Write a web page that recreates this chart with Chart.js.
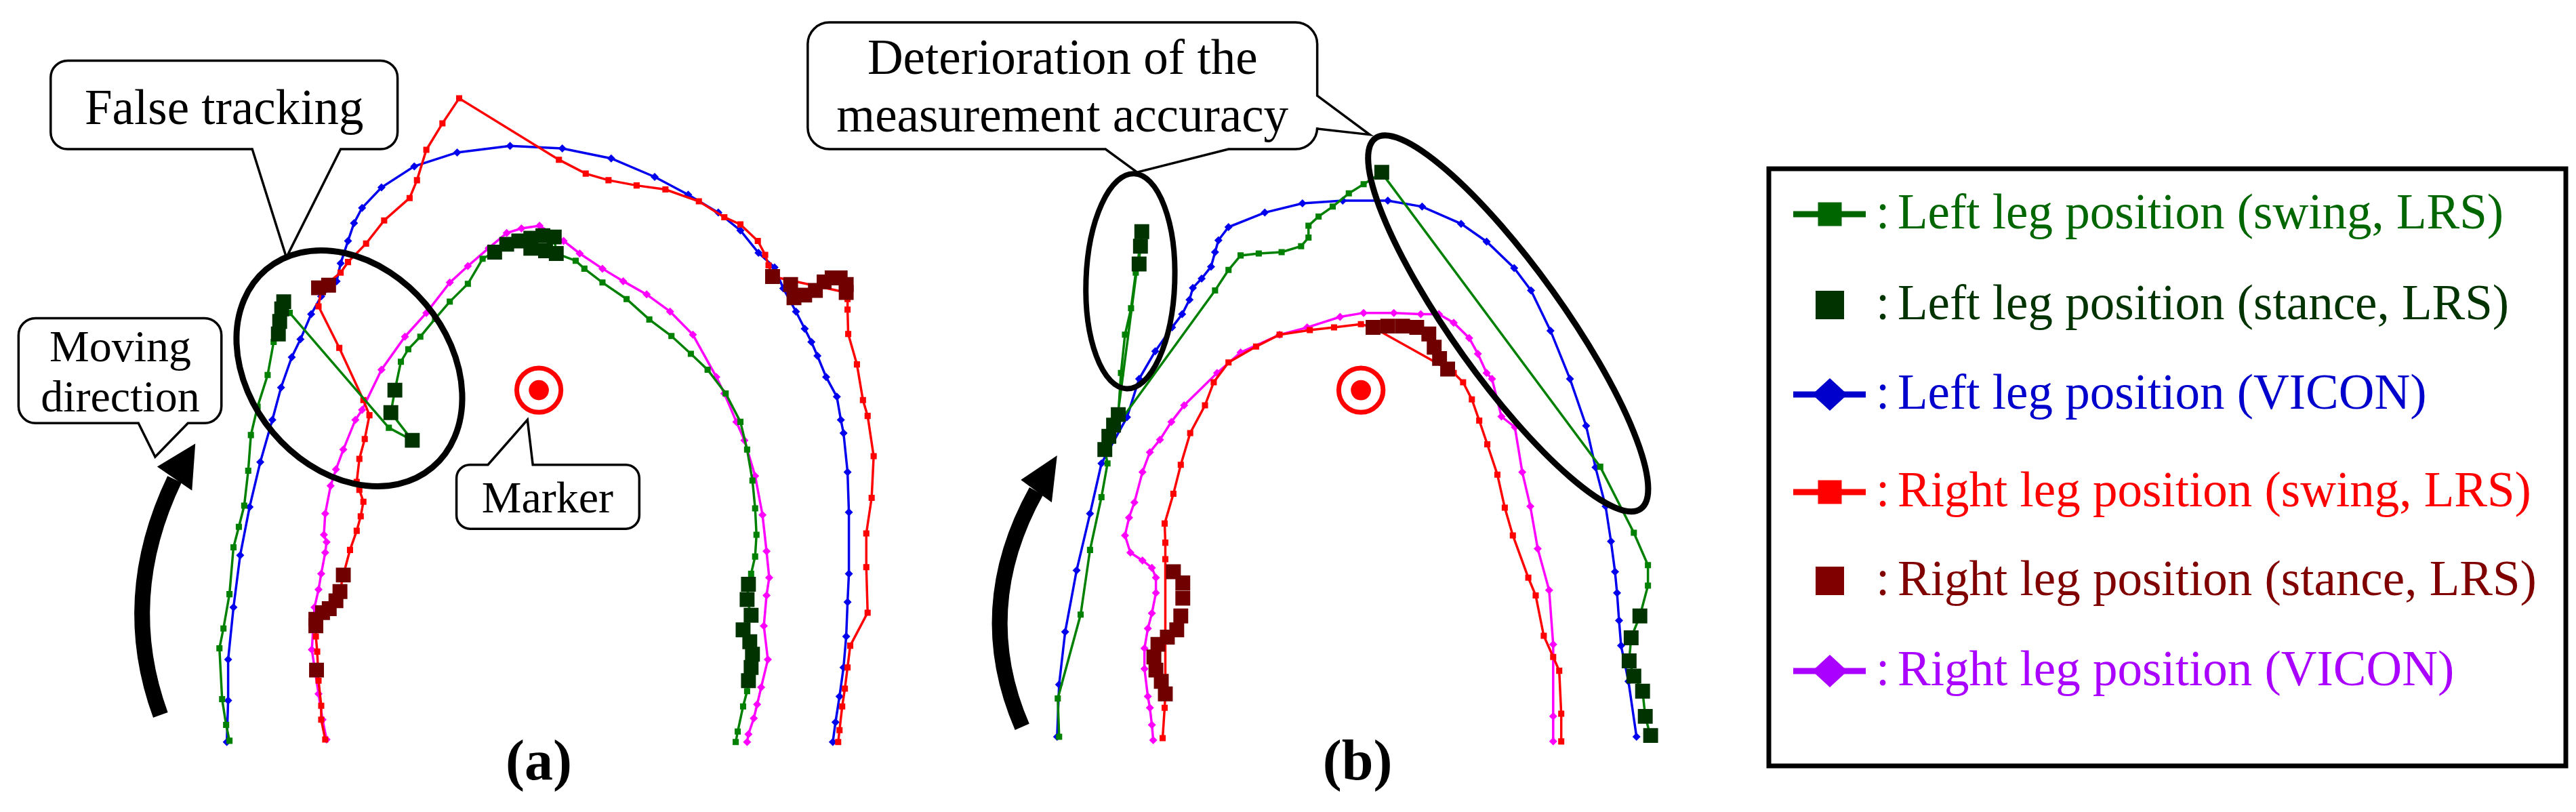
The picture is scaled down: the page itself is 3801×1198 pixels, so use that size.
<!DOCTYPE html>
<html>
<head>
<meta charset="utf-8">
<title>LRS vs VICON leg positions</title>
<script src="https://cdn.jsdelivr.net/npm/chart.js@4.4.1/dist/chart.umd.min.js"></script>
<style>
  html, body { margin: 0; padding: 0; background: #fff; }
  #wrap { position: relative; width: 3801px; height: 1198px; overflow: hidden; background: #fff; }
  #wrap canvas { position: absolute; left: 0; top: 0; }
</style>
</head>
<body>
<div id="wrap">
  <canvas id="panelA" width="2600" height="1198"></canvas>
  <canvas id="panelB" width="3801" height="1198"></canvas>
</div>
<script>
// Leg positions, relative to the marker (x right, y up)
const seriesLabels = [
  'Left leg position (swing, LRS)',
  'Left leg position (stance, LRS)',
  'Left leg position (VICON)',
  'Right leg position (swing, LRS)',
  'Right leg position (stance, LRS)',
  'Right leg position (VICON)'
];
const plotColors = ['#008000', '#003300', '#0000ee', '#ff0000', '#700000', '#ff00ff'];
const legendColors = ['#006600', '#003300', '#0000cc', '#ff0000', '#800000', '#aa00ff'];

// ---- panel (a) ----
const leftSwingA = [[-462,-531],[-467,-507],[-473,-468],[-477,-391],[-471,-361],[-462,-309],[-456,-238],[-448,-207],
  [-440,-175],[-434,-122],[-430,-68],[-420,-25],[-405,23],[-396,73],[-389,88],[-387,108],[-383,128],[-372,117],
  [-224,-57],[-189,-76],[-221,-34],[-215,0],[-206,43],[-195,62],[-177,81],[-155,108],[-133,134],[-106,161],[-84,199],
  [-66,209],[-48,221],[-30,226],[-12,230],[6,234],[23,232],[26,207],[55,196],[68,184],[95,163],[131,138],[165,107],
  [198,82],[227,55],[252,31],[279,-5],[301,-48],[311,-90],[319,-137],[323,-179],[325,-219],[323,-252],[317,-278],
  [313,-294],[311,-317],[317,-341],[305,-363],[315,-381],[319,-400],[317,-420],[313,-440],[311,-456],[305,-479],
  [297,-517],[294,-533]];
const leftStanceA = [[-389,85],[-387,104],[-384,123],[-381,134],[-221,-34],[-215,0],[-189,-76],
  [-66,209],[-48,221],[-30,226],[-12,230],[6,234],[23,232],[26,207],[10,211],[-12,215],
  [313,-294],[311,-317],[317,-341],[305,-363],[315,-381],[319,-400],[317,-420],[313,-440]];
const leftViconA = [[-466,-533],[-464,-470],[-464,-408],[-456,-329],[-446,-250],[-432,-177],[-416,-109],[-398,-45],
  [-385,4],[-369,50],[-356,77],[-340,115],[-325,142],[-302,165],[-296,192],[-285,226],[-276,253],[-264,276],
  [-235,307],[-186,339],[-122,360],[-43,370],[35,366],[108,351],[173,323],[223,296],[268,269],[301,242],[328,208],
  [352,186],[365,154],[384,119],[397,93],[407,73],[416,52],[429,20],[445,-10],[451,-45],[455,-65],[461,-124],
  [463,-185],[463,-278],[461,-321],[459,-373],[455,-420],[449,-464],[443,-503],[439,-533]];
const rightSwingA = [[-319,-529],[-325,-499],[-325,-478],[-329,-440],[-331,-396],[-333,-373],[-333,-350],[-311,-333],
  [-297,-305],[-292,-280],[-282,-242],[-272,-213],[-266,-191],[-262,-169],[-268,-151],[-272,-139],[-268,-104],
  [-260,-74],[-253,-38],[-262,-15],[-298,64],[-329,127],[-325,154],[-296,178],[-285,194],[-258,222],[-231,257],
  [-193,291],[-182,318],[-168,364],[-144,404],[-119,442],[30,349],[70,328],[104,318],[146,310],[189,304],[239,286],
  [277,262],[301,251],[327,226],[338,205],[343,189],[349,172],[459,148],[461,138],[461,122],[462,85],[475,39],
  [484,-15],[491,-39],[500,-100],[497,-163],[489,-217],[489,-268],[491,-337],[465,-387],[461,-420],[457,-452],
  [453,-479],[449,-515],[447,-533]];
const rightStanceA = [[-329,155],[-314,159],[-292,-280],[-297,-305],[-303,-319],[-313,-331],[-323,-337],[-333,-347],
  [-333,-357],[-332,-424],[349,172],[376,160],[381,140],[397,144],[413,151],[426,164],[438,170],[450,170],[459,160],[459,148]];
const rightViconA = [[-317,-529],[-323,-499],[-329,-460],[-335,-420],[-339,-393],[-337,-361],[-335,-329],[-329,-302],
  [-325,-278],[-319,-246],[-317,-230],[-321,-219],[-319,-187],[-311,-145],[-303,-120],[-292,-90],[-274,-45],[-264,-30],
  [-235,31],[-200,81],[-168,117],[-133,163],[-106,188],[-75,215],[-48,238],[-26,245],[1,249],[37,226],[61,207],[95,184],
  [126,165],[161,145],[196,119],[230,84],[265,20],[277,-5],[295,-48],[307,-76],[323,-130],[334,-189],[340,-244],
  [344,-284],[340,-311],[336,-357],[342,-408],[332,-450],[326,-476],[321,-497],[313,-521],[311,-533]];

// ---- panel (b) ----
const leftSwingB = [[-449,-525],[-451,-467],[-417,-340],[-403,-242],[-386,-162],[-377,-111],[-381,-90],[-375,-70],
  [-368,-53],[-361,-37],[-357,26],[-351,84],[-342,124],[-335,178],[-330,196],[-326,240],[-364,-55],[-217,151],
  [-197,182],[-179,204],[-152,207],[-118,209],[-89,218],[-78,231],[-78,249],[-63,263],[-42,278],[-18,298],[4,312],
  [31,329],[356,-116],[406,-216],[427,-265],[427,-296],[415,-342],[402,-375],[399,-410],[406,-433],[419,-456],
  [423,-494],[431,-525]];
const leftStanceB = [[-381,-90],[-375,-70],[-368,-53],[-361,-37],[-330,191],[-328,218],[-326,240],[31,330],
  [415,-342],[402,-375],[399,-410],[406,-433],[419,-456],[423,-494],[431,-523]];
const leftViconB = [[-452,-525],[-449,-446],[-440,-366],[-423,-273],[-403,-187],[-386,-111],[-348,-41],[-330,17],
  [-306,59],[-281,95],[-266,115],[-255,137],[-250,155],[-237,169],[-223,187],[-217,209],[-212,227],[-197,247],
  [-143,269],[-87,283],[-27,287],[40,287],[91,278],[149,252],[187,225],[228,185],[253,151],[282,90],[311,17],
  [335,-54],[349,-117],[364,-176],[372,-229],[378,-275],[381,-307],[384,-349],[387,-387],[398,-441],[410,-525]];
const rightSwingB = [[-295,-527],[-292,-481],[-291,-460],[-291,-256],[-291,-231],[-292,-202],[-279,-157],[-268,-113],
  [-254,-65],[-232,-23],[-219,12],[-197,42],[-156,66],[-121,84],[-76,91],[-40,95],[0,100],[18,95],[129,32],
  [138,26],[152,12],[165,-14],[176,-46],[188,-82],[203,-128],[214,-178],[226,-220],[249,-284],[260,-311],
  [272,-372],[286,-404],[295,-425],[298,-490],[298,-532]];
const rightStanceB = [[-279,-275],[-265,-292],[-265,-315],[-268,-342],[-274,-363],[-288,-374],[-302,-385],
  [-308,-404],[-305,-424],[-297,-441],[-291,-460],
  [18,95],[40,97],[62,97],[83,95],[101,85],[109,65],[117,48],[129,32]];
const rightViconB = [[-309,-530],[-311,-507],[-314,-481],[-317,-464],[-322,-422],[-322,-391],[-317,-361],[-311,-338],
  [-305,-307],[-305,-284],[-311,-269],[-325,-258],[-343,-246],[-351,-220],[-345,-193],[-337,-170],[-325,-124],
  [-314,-94],[-299,-75],[-282,-48],[-263,-23],[-214,26],[-179,57],[-121,84],[-80,95],[-31,111],[4,117],[49,117],
  [89,115],[116,115],[138,102],[161,79],[174,55],[187,26],[195,17],[209,-40],[229,-56],[240,-124],[252,-176],
  [263,-240],[280,-303],[286,-385],[286,-494],[286,-532]];

const serif = '"Liberation Serif", "Times New Roman", Times, serif';

function pts(list) {
  return list.map(p => ({ x: p[0], y: p[1] }));
}

function buildDatasets(series) {
  return series.map((d, i) => {
    const stance = i === 1 || i === 4;
    const vicon = i === 2 || i === 5;
    return {
      label: seriesLabels[i],
      data: pts(d),
      showLine: !stance,
      borderColor: plotColors[i],
      backgroundColor: plotColors[i],
      pointBackgroundColor: plotColors[i],
      pointBorderColor: plotColors[i],
      borderWidth: 3.5,
      pointStyle: vicon ? 'rectRot' : 'rect',
      pointRadius: stance ? 15.5 : (vicon ? 6 : 6.4),
      pointBorderWidth: 0,
      tension: 0,
      order: stance ? 0 : (vicon ? 2 : 1)
    };
  });
}

// speech bubble: rounded box with pointer tails
function bubble(ctx, px, py, b) {
  const L = px(b.box[0]), T = py(b.box[1]), R = px(b.box[2]), B = py(b.box[3]);
  const r = b.r;
  const tails = b.tails || [];
  ctx.beginPath();
  ctx.moveTo(L + r, T);
  tails.filter(t => t.side === 'top').forEach(t => {
    ctx.lineTo(px(t.from), T); ctx.lineTo(px(t.tip[0]), py(t.tip[1])); ctx.lineTo(px(t.to), T);
  });
  ctx.lineTo(R - r, T);
  ctx.arcTo(R, T, R, T + r, r);
  tails.filter(t => t.side === 'right').forEach(t => {
    ctx.lineTo(R, py(t.from)); ctx.lineTo(px(t.tip[0]), py(t.tip[1])); ctx.lineTo(R, py(t.to));
  });
  ctx.lineTo(R, B - r);
  ctx.arcTo(R, B, R - r, B, r);
  tails.filter(t => t.side === 'bottom').forEach(t => {
    ctx.lineTo(px(t.to), B); ctx.lineTo(px(t.tip[0]), py(t.tip[1])); ctx.lineTo(px(t.from), B);
  });
  ctx.lineTo(L + r, B);
  ctx.arcTo(L, B, L, B - r, r);
  ctx.lineTo(L, T + r);
  ctx.arcTo(L, T, L + r, T, r);
  ctx.closePath();
  ctx.fillStyle = '#fff';
  ctx.fill();
  ctx.lineWidth = 3.5;
  ctx.strokeStyle = '#000';
  ctx.lineJoin = 'miter';
  ctx.stroke();
  ctx.fillStyle = '#000';
  ctx.font = b.size + 'px ' + serif;
  ctx.textAlign = 'center';
  ctx.textBaseline = 'alphabetic';
  b.text.forEach((line, k) => ctx.fillText(line, px(b.cx), py(b.lines[k])));
}

const notesPlugin = {
  id: 'notes',
  afterDatasetsDraw(chart, args, o) {
    const ctx = chart.ctx;
    const xs = chart.scales.x, ys = chart.scales.y;
    const px = v => xs.getPixelForValue(v);
    const py = v => ys.getPixelForValue(v);
    const k = Math.abs(px(1) - px(0));
    ctx.save();

    // marker (target)
    ctx.strokeStyle = '#ff0000';
    ctx.fillStyle = '#ff0000';
    ctx.lineWidth = 7;
    ctx.beginPath();
    ctx.arc(px(o.target[0]), py(o.target[1]), 33 * k, 0, Math.PI * 2);
    ctx.stroke();
    ctx.beginPath();
    ctx.arc(px(o.target[0]), py(o.target[1]), 15 * k, 0, Math.PI * 2);
    ctx.fill();

    // ellipses
    ctx.strokeStyle = '#000';
    o.ellipses.forEach(e => {
      ctx.lineWidth = e.lw;
      ctx.beginPath();
      ctx.ellipse(px(e.c[0]), py(e.c[1]), e.rx * k, e.ry * k, e.rot * Math.PI / 180, 0, Math.PI * 2);
      ctx.stroke();
    });

    // moving-direction arrow
    const a = o.arrow;
    ctx.lineWidth = 23;
    ctx.lineCap = 'butt';
    ctx.beginPath();
    ctx.moveTo(px(a.tail[0]), py(a.tail[1]));
    ctx.quadraticCurveTo(px(a.ctrl[0]), py(a.ctrl[1]), px(a.end[0]), py(a.end[1]));
    ctx.stroke();
    ctx.fillStyle = '#000';
    ctx.beginPath();
    ctx.moveTo(px(a.tip[0]), py(a.tip[1]));
    ctx.lineTo(px(a.base1[0]), py(a.base1[1]));
    ctx.lineTo(px(a.base2[0]), py(a.base2[1]));
    ctx.closePath();
    ctx.fill();

    // callouts
    o.bubbles.forEach(b => bubble(ctx, px, py, b));

    // panel label
    ctx.fillStyle = '#000';
    ctx.font = 'bold 84px ' + serif;
    ctx.textAlign = 'center';
    ctx.textBaseline = 'alphabetic';
    ctx.fillText(o.label.text, px(o.label.at[0]), py(o.label.at[1]));

    // legend box (only on one panel)
    if (o.legend) {
      const g = o.legend;
      ctx.lineWidth = 7;
      ctx.strokeStyle = '#000';
      ctx.strokeRect(g.box[0], g.box[1], g.box[2] - g.box[0], g.box[3] - g.box[1]);
      chart.data.datasets.forEach((ds, i) => {
        const col = legendColors[i];
        const base = g.rows[i];
        const cy = base - 21;
        ctx.fillStyle = col;
        ctx.strokeStyle = col;
        if (ds.showLine) {
          ctx.lineWidth = 9;
          ctx.beginPath();
          ctx.moveTo(g.lineX[0], cy);
          ctx.lineTo(g.lineX[1], cy);
          ctx.stroke();
        }
        const mx = g.symX;
        if (ds.pointStyle === 'rectRot') {
          ctx.beginPath();
          ctx.moveTo(mx - 26, cy);
          ctx.lineTo(mx, cy - 24);
          ctx.lineTo(mx + 26, cy);
          ctx.lineTo(mx, cy + 24);
          ctx.closePath();
          ctx.fill();
        } else {
          const s = ds.showLine ? 35 : 42;
          ctx.fillRect(mx - s / 2, cy - s / 2, s, s);
        }
        ctx.font = g.size + 'px ' + serif;
        ctx.textAlign = 'left';
        ctx.textBaseline = 'alphabetic';
        ctx.fillText(':', g.colonX, base);
        ctx.fillText(ds.label, g.textX, base);
      });
    }
    ctx.restore();
  }
};

function makePanel(id, xMin, xMax, series, notes) {
  return new Chart(document.getElementById(id), {
    type: 'scatter',
    data: { datasets: buildDatasets(series) },
    options: {
      responsive: false,
      devicePixelRatio: 1,
      animation: false,
      events: [],
      layout: { padding: 0 },
      scales: {
        x: { type: 'linear', min: xMin, max: xMax, display: false },
        y: { type: 'linear', min: -623, max: 575, display: false }
      },
      plugins: {
        legend: { display: false },
        tooltip: { enabled: false },
        notes: notes
      }
    },
    plugins: [notesPlugin]
  });
}

makePanel('panelA', -789, 1811,
  [leftSwingA, leftStanceA, leftViconA, rightSwingA, rightStanceA, rightViconA],
  {
    target: [0, 0],
    ellipses: [{ c: [-283, 33], rx: 193, ry: 149, rot: 50, lw: 9 }],
    arrow: { tail: [-565, -492], ctrl: [-629, -315], end: [-544, -135], tip: [-513, -81], base1: [-570, -116], base2: [-518, -152] },
    bubbles: [
      { box: [-729, 499, -211, 365], r: 25, size: 73, cx: -470, text: ['False tracking'], lines: [403],
        tails: [{ side: 'bottom', from: -428, to: -296, tip: [-377, 201] }] },
      { box: [-777, 109, -474, -50], r: 25, size: 66, cx: -625, text: ['Moving', 'direction'], lines: [44, -32],
        tails: [{ side: 'bottom', from: -598, to: -524, tip: [-573, -101] }] },
      { box: [-123, -113, 150, -210], r: 20, size: 66, cx: 13, text: ['Marker'], lines: [-185],
        tails: [{ side: 'top', from: -76, to: -9, tip: [-17, -45] }] }
    ],
    label: { text: '(a)', at: [0, -590] }
  });

makePanel('panelB', -2009, 1792,
  [leftSwingB, leftStanceB, leftViconB, rightSwingB, rightStanceB, rightViconB],
  {
    target: [0, 0],
    ellipses: [
      { c: [-343, 165], rx: 66, ry: 160, rot: 2, lw: 8 },
      { c: [219, 101], rx: 339, ry: 82, rot: 54.4, lw: 9 }
    ],
    arrow: { tail: [-504, -510], ctrl: [-580, -331], end: [-483, -153], tip: [-452, -99], base1: [-506, -136], base2: [-460, -170] },
    bubbles: [
      { box: [-823, 557, -65, 365], r: 32, size: 73, cx: -444,
        text: ['Deterioration of the', 'measurement accuracy'], lines: [479, 392],
        tails: [
          { side: 'bottom', from: -380, to: -197, tip: [-333, 330] },
          { side: 'right', from: 446, to: 396, tip: [13, 387] }
        ] }
    ],
    label: { text: '(b)', at: [-5, -590] },
    legend: {
      box: [2610, 249, 3786, 1130],
      rows: [337, 471, 603, 747, 878, 1011],
      lineX: [2646, 2753],
      symX: 2700,
      colonX: 2768,
      textX: 2800,
      size: 73
    }
  });
</script>
</body>
</html>
